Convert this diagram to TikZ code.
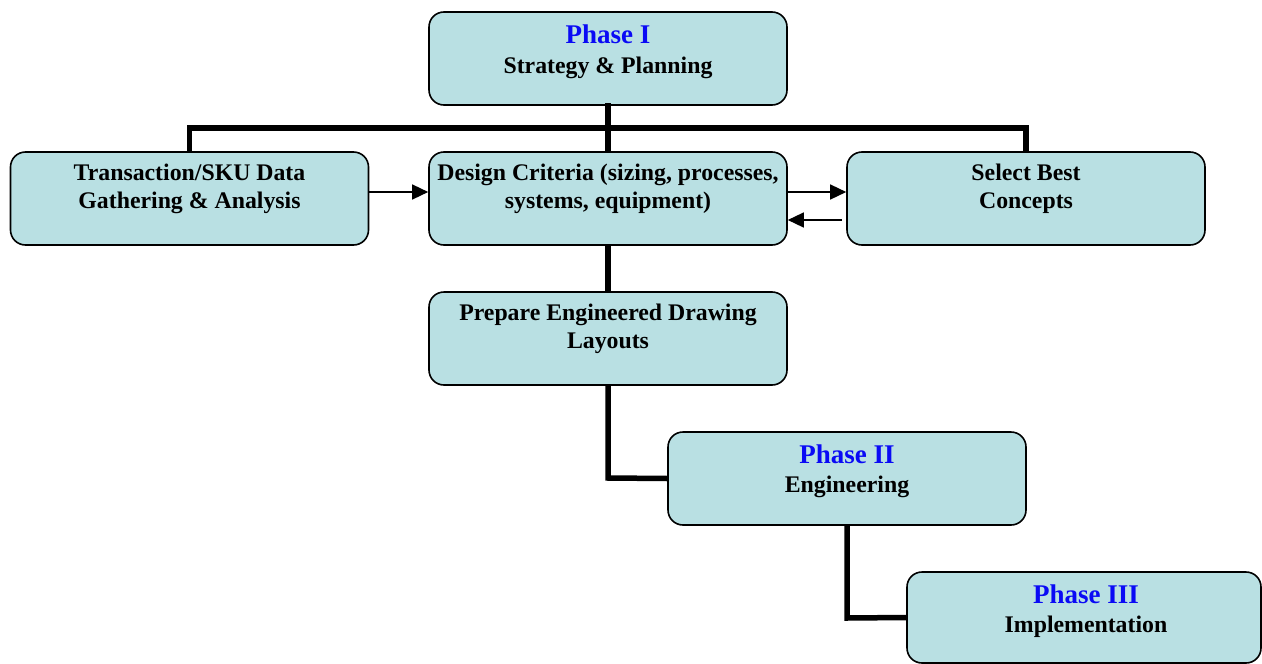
\documentclass[tikz,border=0pt]{standalone}
\usepackage{fontspec}
\setmainfont{Liberation Serif}
\usetikzlibrary{arrows.meta}
\definecolor{boxfill}{RGB}{185,224,227}
\definecolor{phaseblue}{RGB}{10,10,245}
\tikzset{
  x=1pt, y=-1pt,
  stage/.style={draw=black, line width=1.6pt, fill=boxfill, rounded corners=15pt,
    minimum width=358pt, minimum height=93pt, inner sep=0pt},
  txt/.style={anchor=base, inner sep=0pt, font=\fontsize{23.8}{28}\selectfont\bfseries},
  phase/.style={anchor=base, inner sep=0pt, text=phaseblue, font=\fontsize{27}{32}\selectfont\bfseries},
  trunk/.style={line width=5.5pt, line cap=rect},
  flow/.style={line width=1.4pt, -{Triangle[length=16pt,width=15pt]}}
}
\begin{document}
\begin{tikzpicture}
\useasboundingbox (0,0) rectangle (1262,664);

% boxes
\node[stage] (p1) at (608,58.5) {};
\node[stage] (tx) at (189.5,198.5) {};
\node[stage] (dc) at (608,198.5) {};
\node[stage] (sb) at (1026,198.5) {};
\node[stage] (pe) at (608,338.5) {};
\node[stage] (p2) at (847,478.5) {};
\node[stage, minimum width=354pt, minimum height=91pt] (p3) at (1084,617.5) {};

% texts
\node[phase] (p1a) at (608,43) {Phase I};
\node[txt]   (p1b) at (608,73) {Strategy \& Planning};
\node[txt]   (txa) at (189.5,180) {Transaction/SKU Data};
\node[txt]   (txb) at (189.5,208) {Gathering \& Analysis};
\node[txt]   (dca) at (608,180) {Design Criteria (sizing, processes,};
\node[txt]   (dcb) at (608,208) {systems, equipment)};
\node[txt]   (sba) at (1026,180) {Select Best};
\node[txt]   (sbb) at (1026,208) {Concepts};
\node[txt]   (pea) at (608,320) {Prepare Engineered Drawing};
\node[txt]   (peb) at (608,348) {Layouts};
\node[phase] (p2a) at (847,463) {Phase II};
\node[txt]   (p2b) at (847,492) {Engineering};
\node[phase] (p3a) at (1086,603) {Phase III};
\node[txt]   (p3b) at (1086,632) {Implementation};

% junction points of the tree
\coordinate (bus) at (608,128);
\coordinate (busL) at (189.5,128);
\coordinate (busR) at (1026,128);
\coordinate (k2) at (608,478);
\coordinate (k3) at (847,618);

% thick hierarchy lines
\draw[trunk] (p1.south) -- (bus);
\draw[trunk, line cap=butt] (tx.north) -- (busL) -- (busR) -- (sb.north);
\draw[trunk, line cap=butt] (bus) -- (dc.north);
\draw[trunk, line cap=butt] (dc.south) -- (pe.north);
\draw[trunk, line cap=butt] (pe.south) -- (k2) -- (p2.west);
\draw[trunk, line cap=butt] (p2.south) -- (k3) -- (p3.west);

% thin flow arrows
\draw[flow] (tx.east |- 0,192) -- (dc.west |- 0,192);
\draw[flow] ([xshift=-2pt]dc.east |- 0,192) -- (sb.west |- 0,192);
\draw[flow] ([xshift=-4pt]sb.west |- 0,220) -- (dc.east |- 0,220);
\end{tikzpicture}
\end{document}
